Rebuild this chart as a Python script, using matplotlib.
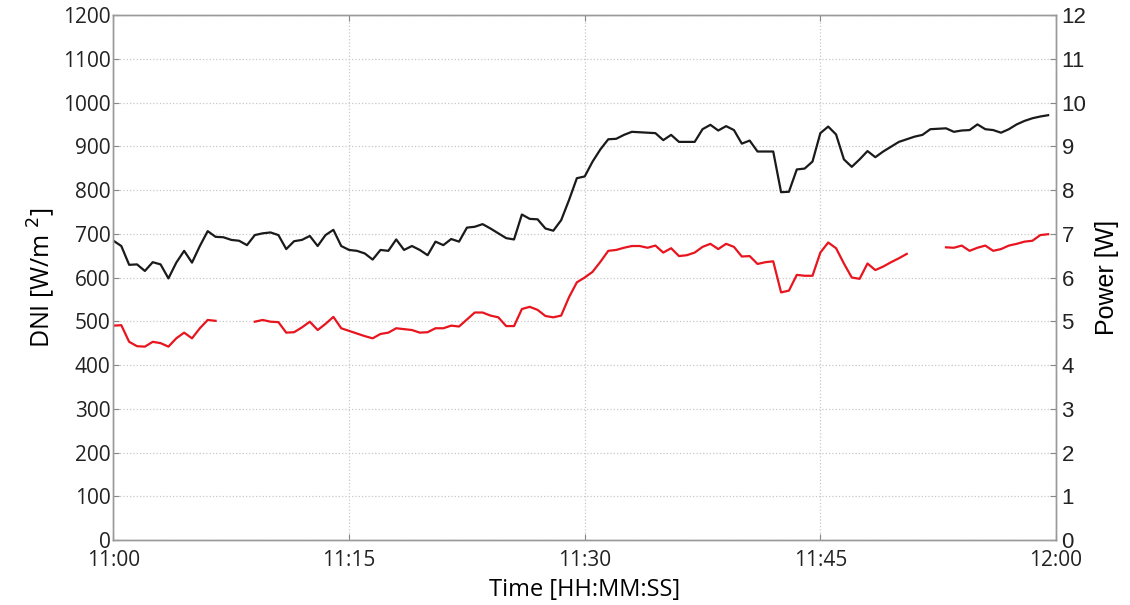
import numpy as np
import pandas as pd
import matplotlib
matplotlib.use('Agg')
import matplotlib.pyplot as plt

# 30 s samples, 11:00:00 - 11:59:30
times = pd.date_range('2000-01-01 11:00:00', periods=120, freq='30s')

dni = [684, 672, 629, 630, 615, 635, 630, 598, 634, 661, 634, 672, 706, 693, 692, 686, 684, 674, 697, 701, 703, 697,
       665, 683, 686, 695, 672, 697, 709, 672, 663, 661, 655, 641, 663, 661, 687, 663, 672, 663, 651, 682, 674,
       688, 682, 714, 716, 722, 712, 701, 690, 687, 744, 734, 733, 712, 707, 731, 777, 827, 831, 865, 893, 916,
       917, 926, 933, 932, 931, 930, 914, 926, 910, 910, 910, 939, 949, 936, 946, 937, 906, 913, 888, 888, 888,
       795, 796, 847, 849, 865, 930, 945, 927, 870, 853, 870, 889, 875, 888, 899, 910, 916, 922, 926, 939, 940,
       941, 933, 936, 937, 950, 939, 937, 931, 939, 950, 958, 964, 968, 971]

nan = np.nan
power = [4.90, 4.91, 4.53, 4.43, 4.42, 4.53, 4.50, 4.42, 4.61, 4.74, 4.61, 4.84, 5.03, 5.01,
         nan, nan, nan, nan,
         4.99, 5.03, 4.99, 4.98,
         4.74, 4.75, 4.86, 4.99, 4.80, 4.94, 5.10, 4.84, 4.78, 4.72, 4.66, 4.61, 4.71, 4.74, 4.84, 4.82, 4.80, 4.74, 4.75, 4.84, 4.84,
         4.90, 4.88, 5.04, 5.20, 5.20, 5.13, 5.09, 4.89, 4.89, 5.28, 5.33, 5.26, 5.12, 5.09, 5.13, 5.55, 5.89, 6.00, 6.13, 6.36, 6.61,
         6.63, 6.68, 6.72, 6.72, 6.68, 6.73, 6.57, 6.67, 6.49, 6.51, 6.57, 6.70, 6.77, 6.65, 6.77, 6.70, 6.48, 6.49, 6.31, 6.35, 6.37,
         5.66, 5.70, 6.06, 6.04, 6.04, 6.57, 6.80, 6.67, 6.32, 6.00, 5.97, 6.32, 6.17, 6.25, 6.35, 6.44, 6.54,
         nan, nan, nan, nan,
         6.69, 6.68, 6.73, 6.61, 6.68, 6.73, 6.61, 6.65, 6.73, 6.77, 6.82, 6.84, 6.97, 6.99]

x_ticks = ['2000-01-01 11:00', '2000-01-01 11:15', '2000-01-01 11:30', '2000-01-01 11:45', '2000-01-01 12:00']
x_labels = ['11:00', '11:15', '11:30', '11:45', '12:00']

fig = plt.figure(figsize=(11.3, 6.05), dpi=100)
ax = fig.add_axes([0.1004, 0.1074, 0.8341, 0.8678])
ax2 = ax.twinx()

ax.plot(times, dni, color='#1a1a1a', lw=1.6)
ax2.plot(times, power, color='#e8141e', lw=1.6)

xt = pd.to_datetime(x_ticks)
ax.set_xlim(xt[0], xt[-1])
ax.set_xticks(xt)
ax.set_xticklabels(x_labels, fontfamily='Open Sans', fontsize=15, color='#222222')

ax.set_ylim(0, 1200)
ax.set_yticks(np.arange(0, 1201, 100))
ax.set_yticklabels([str(v) for v in range(0, 1201, 100)], fontfamily='Open Sans', fontsize=15, color='#222222')
ax2.set_ylim(0, 12)
ax2.set_yticks(np.arange(0, 13, 1))
ax2.set_yticklabels([str(v) for v in range(13)], fontfamily='Liberation Sans', fontsize=16, color='#222222')

ax.grid(True, color='#c8c8c8', linestyle=':', linewidth=0.9)
ax.tick_params(axis='y', direction='in', length=4, pad=2, color='#888888')
ax.tick_params(axis='x', direction='in', length=4, pad=7, color='#888888', top=True)
ax2.tick_params(axis='y', direction='in', length=4, pad=4, color='#888888')

for a in (ax, ax2):
    for s in a.spines.values():
        s.set_color('#9a9a9a')
        s.set_linewidth(1.0)

ax.set_ylabel('DNI [W/m $^{2}$]', fontfamily='Open Sans', fontsize=18, labelpad=4)
ax2.set_ylabel('Power [W]', fontfamily='Liberation Sans', fontsize=18, labelpad=6)
ax.set_xlabel('Time [HH:MM:SS]', fontfamily='Open Sans', fontsize=17, labelpad=5)

fig.savefig('out.png', dpi=100)
